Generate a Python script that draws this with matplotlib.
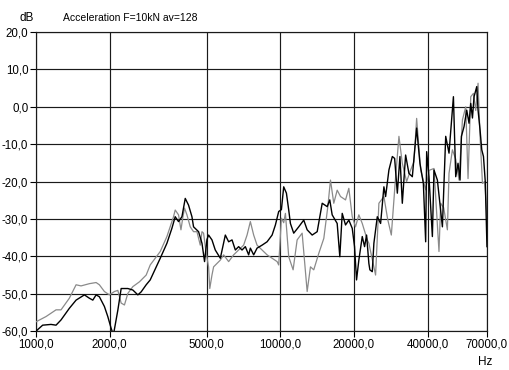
import matplotlib
matplotlib.use('Agg')
import matplotlib.pyplot as plt
import numpy as np

# Black trace (Hz, dB)
black_hz = [1000, 1065, 1152, 1208, 1266, 1369, 1459, 1578, 1654, 1708,
            1762, 1817, 1905, 1967, 2029, 2074, 2162, 2231, 2376, 2490,
            2611, 2693, 2824, 2933, 3224, 3433, 3598, 3712, 3830, 3955,
            4080, 4209, 4346, 4412, 4626, 4777, 4894, 5006, 5083, 5248,
            5414, 5678, 5952, 6141, 6340, 6541, 6747, 6966, 7187, 7415,
            7535, 7774, 8026, 8414, 8821, 9248, 9540, 9841, 10095, 10316,
            10583, 10815, 10989, 11336, 11885, 12460, 12866, 13488, 14141,
            14826, 15543, 15921, 16286, 17073, 17501, 17901, 18468, 19053,
            19674, 20105, 20488, 20938, 21622, 22097, 22518, 23012, 23230,
            23762, 24124, 24911, 25700, 26513, 26942, 27795, 28703, 29332,
            30088, 30835, 31532, 32531, 33560, 34655, 36090, 37233, 38449,
            39293, 39665, 40535, 41857, 42494, 43880, 46003, 47460, 48960,
            51035, 52154, 53299, 54314, 55036, 56401, 57858, 59127, 60083,
            61056, 61985, 63584, 64368, 65594, 66656, 67735, 68894, 70000]
black_db = [-60.0, -58.4, -58.2, -58.4, -57.0, -53.9, -51.7, -50.3, -51.2, -51.7,
            -50.3, -50.8, -53.4, -56.1, -59.2, -61.0, -54.4, -48.6, -48.6, -49.0,
            -50.3, -49.5, -47.6, -46.3, -40.5, -36.5, -32.5, -29.4, -30.7, -29.4,
            -24.5, -26.3, -29.4, -32.1, -33.4, -36.5, -41.4, -35.5, -34.3, -35.6,
            -38.3, -40.5, -34.3, -36.1, -35.6, -38.3, -37.4, -38.3, -37.4, -39.6,
            -37.8, -39.6, -37.8, -37.0, -36.1, -34.3, -31.6, -28.0, -27.5, -21.4,
            -23.1, -27.6, -31.2, -33.8, -32.1, -30.3, -32.9, -34.3, -33.4,
            -25.8, -26.7, -24.9, -28.9, -31.2, -40.1, -28.5, -31.6, -30.3,
            -32.5, -37.4, -46.3, -41.0, -34.7, -37.4, -34.3, -41.9, -43.6,
            -44.1, -36.5, -29.4, -31.2, -21.4, -24.0, -16.9, -13.3, -13.8,
            -23.1, -13.3, -25.8, -12.9, -17.8, -18.7, -5.7, -15.1, -20.5,
            -36.1, -12.0, -18.7, -34.7, -16.9, -19.6, -32.1, -7.9, -12.4,
            2.7, -18.7, -15.1, -19.6, -7.9, -5.3, -0.9, -4.4, 0.9,
            -3.0, 2.7, 5.4, -0.9, -6.2, -11.5, -13.3, -20.0, -37.4]

# Gray trace (Hz, dB)
gray_hz = [1000, 1099, 1208, 1266, 1369, 1459, 1529, 1654, 1762, 1817,
           1905, 1997, 2094, 2162, 2231, 2301, 2376, 2490, 2651, 2824,
           2933, 3224, 3433, 3653, 3712, 3830, 3918, 3993, 4053, 4146,
           4277, 4412, 4556, 4700, 4777, 4849, 4973, 5083, 5141, 5248,
           5330, 5678, 5857, 6141, 6436, 6747, 7072, 7304, 7535, 7774,
           8026, 8414, 8821, 9248, 9694, 9841, 10095, 10316, 10483, 10815,
           11272, 11706, 12273, 12866, 13273, 13692, 14356, 15052, 15632,
           16027, 16534, 17073, 17620, 18468, 19053, 19674, 20292, 20938,
           21622, 22667, 23012, 24514, 25291, 26513, 27455, 28433, 29610,
           30546, 31532, 32838, 34106, 35181, 36090, 37480, 39293, 40535,
           42494, 44548, 45268, 46561, 48216, 48960, 50555, 52154, 53804,
           55558, 57314, 58570, 60083, 61636, 62987, 64368, 65594, 67098,
           68571, 70000]
gray_db = [-57.5, -56.1, -54.3, -54.3, -51.2, -47.6, -47.9, -47.3, -47.0, -47.6,
           -49.4, -50.3, -49.4, -49.1, -52.5, -53.0, -49.9, -48.1, -46.8, -45.0,
           -42.3, -38.7, -34.7, -29.4, -27.6, -28.9, -32.9, -29.4, -27.1, -28.9,
           -32.1, -33.4, -33.4, -37.0, -33.4, -33.8, -39.2, -42.8, -48.6, -45.0,
           -42.8, -41.0, -39.6, -41.4, -39.6, -38.3, -37.0, -34.3, -30.7, -34.3,
           -37.0, -38.3, -39.6, -40.5, -41.4, -42.3, -29.8, -31.0, -28.5, -40.1,
           -43.6, -35.6, -33.8, -49.4, -42.8, -43.6, -39.2, -35.2, -26.7,
           -19.6, -25.8, -22.3, -24.0, -24.9, -21.8, -29.4, -32.1, -28.9,
           -31.2, -35.6, -36.5, -45.0, -25.8, -24.0, -30.0, -34.3, -18.7,
           -7.9, -15.1, -20.0, -16.9, -14.7, -3.1, -16.9, -22.2, -17.0,
           -16.5, -38.7, -25.8, -27.0, -32.9, -17.8, -11.5, -14.0, -19.6,
           -3.5, 0.0, -19.2, 2.7, 3.6, -1.0, 6.3, -7.9, -20.5,
           -20.0, -29.4]

x_ticks = [1000, 2000, 5000, 10000, 20000, 40000, 70000]
y_ticks = [-60, -50, -40, -30, -20, -10, 0, 10, 20]


def _fmt(v):
    return f'{v:.1f}'.replace('.', ',')


def main():
    plt.rcParams['font.family'] = ['Liberation Sans', 'DejaVu Sans']

    fig = plt.figure(figsize=(5.09, 3.70), dpi=100)
    ax = fig.add_axes([0.0707, 0.105, 0.8860, 0.8085])

    ax.plot(gray_hz, gray_db, color='#8a8a8a', lw=0.9, zorder=3)
    ax.plot(black_hz, black_db, color='black', lw=1.0, zorder=4)

    ax.set_xscale('log')
    ax.set_xlim(1000, 70000)
    ax.set_ylim(-60, 20)

    ax.set_xticks(x_ticks)
    ax.set_xticklabels([_fmt(v) for v in x_ticks])
    ax.xaxis.set_minor_locator(matplotlib.ticker.NullLocator())
    ax.set_yticks(y_ticks)
    ax.set_yticklabels([_fmt(v) for v in y_ticks])

    ax.tick_params(axis='both', direction='out', length=4, width=0.8,
                   pad=1.5, labelsize=8.3)
    ax.grid(True, color='#1a1a1a', lw=0.85)
    for spine in ax.spines.values():
        spine.set_color('#1a1a1a')
        spine.set_linewidth(0.85)

    fig.text(0.0375, 0.952, 'dB', fontsize=8.5, ha='left', va='center')
    fig.text(0.124, 0.952, 'Acceleration F=10kN av=128', fontsize=7.5,
             ha='left', va='center')
    fig.text(0.953, 0.022, 'Hz', fontsize=8.5, ha='center', va='center')

    fig.savefig('out.png', dpi=100)
    plt.close(fig)


if __name__ == '__main__':
    main()
